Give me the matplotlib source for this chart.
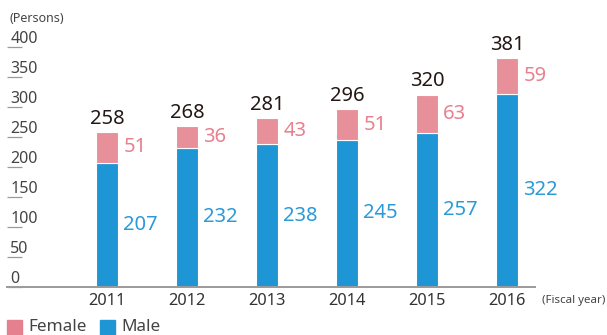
import matplotlib
matplotlib.use("Agg")
import matplotlib.pyplot as plt
from matplotlib.patches import Rectangle
from matplotlib.transforms import blended_transform_factory

plt.rcParams['font.family'] = ['Noto Sans', 'DejaVu Sans']

years = ["2011", "2012", "2013", "2014", "2015", "2016"]
male = [207, 232, 238, 245, 257, 322]
female = [51, 36, 43, 51, 63, 59]
totals = [258, 268, 281, 296, 320, 381]
y_ticks = [0, 50, 100, 150, 200, 250, 300, 350, 400]

C_MALE = "#1E96D6"
C_FEMALE = "#E8909A"
C_MALE_TXT = "#2A9AD8"
C_FEMALE_TXT = "#E8808E"
C_TEXT = "#231815"
C_AXIS = "#9A9A9A"

W, H = 607, 335
fig = plt.figure(figsize=(W / 100, H / 100), dpi=100)
# axes box in pixels: left 7, right 535, baseline at 287 from top, 400 at 47 from top
ax = fig.add_axes([7 / W, 48 / H, (535 - 7) / W, 240 / H])
ax.set_xlim(-1.25, 5.35)
ax.set_ylim(0, 400)

x = list(range(len(years)))
bw = 0.265
ax.bar(x, male, width=bw, color=C_MALE, edgecolor="white", linewidth=0.8, zorder=2)
ax.bar(x, female, width=bw, bottom=male, color=C_FEMALE, edgecolor="white",
       linewidth=0.8, zorder=2)

fs = 14.5
for i in x:
    ax.text(i + bw / 2 + 0.07, male[i] / 2, str(male[i]), color=C_MALE_TXT,
            fontsize=fs, ha="left", va="center")
    ax.text(i + bw / 2 + 0.07, male[i] + female[i] / 2, str(female[i]),
            color=C_FEMALE_TXT, fontsize=fs, ha="left", va="center")
    ax.text(i, totals[i] + 6, str(totals[i]), color=C_TEXT, fontsize=fs,
            ha="center", va="bottom")

for s in ("left", "right", "top"):
    ax.spines[s].set_visible(False)
ax.spines["bottom"].set_color(C_AXIS)
ax.spines["bottom"].set_linewidth(1.4)

ax.set_yticks(y_ticks)
ax.set_yticklabels([])
ax.tick_params(axis="y", direction="in", length=11, width=0.9, color=C_AXIS)
trans = blended_transform_factory(ax.transAxes, ax.transData)
for v in y_ticks:
    ax.text(0.006, v + 0.5, str(v), transform=trans, fontsize=11.5, color="#444444",
            ha="left", va="bottom")

ax.set_xticks(x)
ax.set_xticklabels(years, fontsize=11.8, color="#333333")
ax.tick_params(axis="x", length=0, pad=4)

fig.text(10 / W, 1 - 19 / H, "(Persons)", fontsize=9, color="#444444",
         ha="left", va="center")
fig.text(605 / W, 1 - 300 / H, "(Fiscal year)", fontsize=8.3, color="#444444",
         ha="right", va="center")

# legend
for px, label, col in [(7, "Female", "#E5808F"), (100, "Male", C_MALE)]:
    fig.patches.append(Rectangle((px / W, 0), 15 / W, 15 / H,
                                 transform=fig.transFigure, color=col))
    fig.text((px + 21) / W, 1 - 327 / H, label, fontsize=12.3, color="#444444",
             ha="left", va="center")

fig.savefig("out.png", dpi=100)
